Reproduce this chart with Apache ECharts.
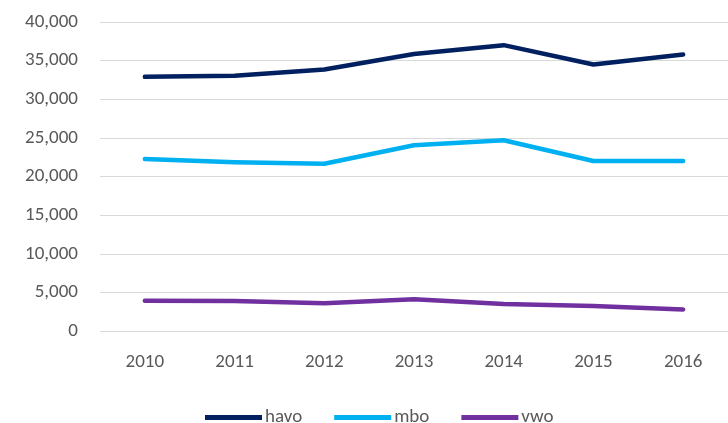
<!DOCTYPE html>
<html>
<head>
<meta charset="utf-8">
<script src="https://cdn.jsdelivr.net/npm/echarts@6/dist/echarts.min.js"></script>
<style>
  html, body { margin: 0; padding: 0; background: #fff; }
  #chart { width: 728px; height: 423px; }
</style>
</head>
<body>
<div id="chart"></div>
<script>
var years = ['2010', '2011', '2012', '2013', '2014', '2015', '2016'];
var havo = [32900, 33050, 33850, 35850, 37000, 34500, 35800];
var mbo = [22250, 21850, 21650, 24050, 24700, 22000, 22000];
var vwo = [3920, 3880, 3580, 4100, 3480, 3250, 2780];

var fontFamily = 'Carlito, Lato, "Open Sans", sans-serif';
var textColor = '#595959';

var chart = echarts.init(document.getElementById('chart'), null, { renderer: 'canvas' });

function lineSeries(name, data, color) {
    return {
        type: 'line',
        name: name,
        data: data,
        showSymbol: false,
        symbol: 'none',
        smooth: false,
        lineStyle: { width: 4.5, color: color, cap: 'round', join: 'round' },
        itemStyle: { color: color },
        emphasis: { disabled: true }
    };
}

chart.setOption({
    animation: false,
    grid: {
        left: 100,
        top: 22,
        width: 634,
        height: 309,
        containLabel: false
    },
    legend: {
        top: 403,
        left: 200,
        icon: 'rect',
        itemWidth: 57,
        itemHeight: 5,
        itemGap: 32,
        textStyle: { fontFamily: fontFamily, fontSize: 19, color: textColor, padding: [0, 0, 0, -2] },
        data: ['havo', 'mbo', 'vwo']
    },
    xAxis: {
        type: 'category',
        data: years,
        boundaryGap: true,
        axisLine: { show: false },
        axisTick: { show: false },
        axisLabel: { margin: 22, fontFamily: fontFamily, fontSize: 19, color: textColor }
    },
    yAxis: {
        type: 'value',
        min: 0,
        max: 40000,
        interval: 5000,
        axisLine: { show: false },
        axisTick: { show: false },
        axisLabel: {
            margin: 22,
            fontFamily: fontFamily,
            fontSize: 19,
            color: textColor,
            formatter: function (v) { return v.toLocaleString('en-US'); }
        },
        splitLine: { lineStyle: { color: '#d9d9d9', width: 1 } }
    },
    series: [
        lineSeries('havo', havo, '#002060'),
        lineSeries('mbo', mbo, '#00B0F0'),
        lineSeries('vwo', vwo, '#7030A0')
    ]
});
</script>
</body>
</html>
